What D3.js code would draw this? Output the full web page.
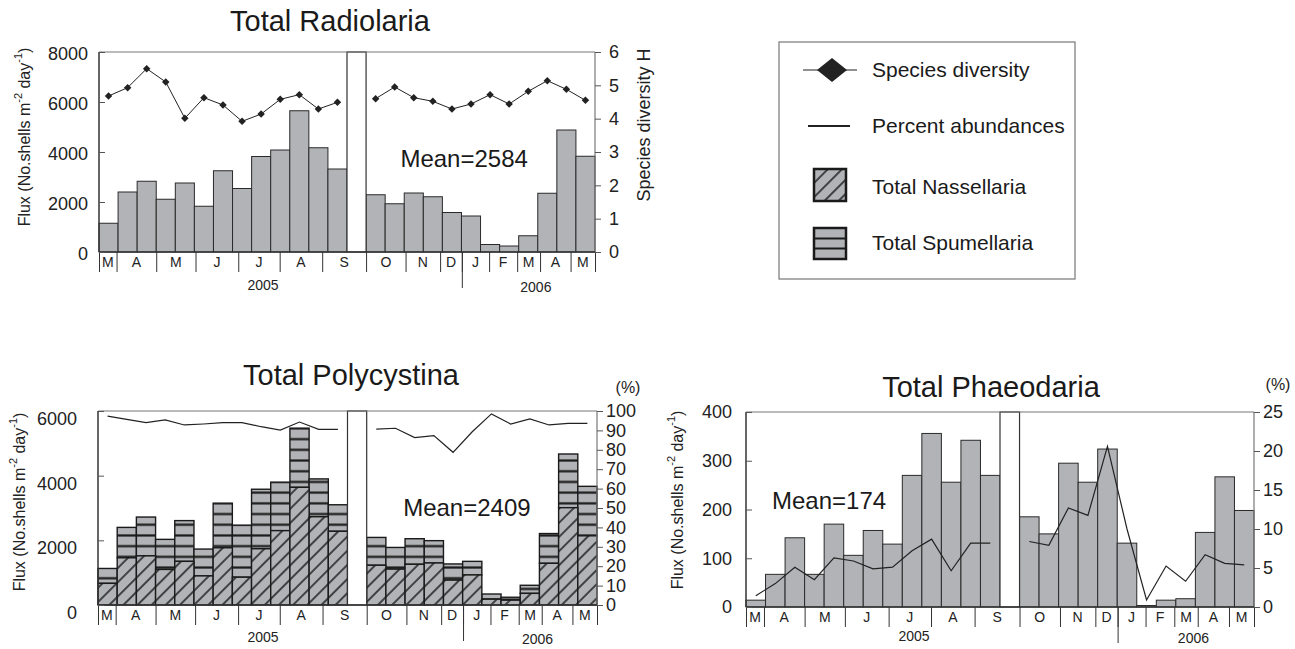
<!DOCTYPE html>
<html>
<head>
<meta charset="utf-8">
<script src="https://cdn.jsdelivr.net/npm/d3@7"></script>
<style>
  body { margin: 0; background: #fff; }
  svg { display: block; font-family: "Liberation Sans", Arial, Helvetica, sans-serif; }
</style>
</head>
<body>
<script>
// sampling intervals (the "gap" slot is the missing period)
const periods = ["s01","s02","s03","s04","s05","s06","s07","s08","s09","s10","s11","s12","s13",
  "gap","s14","s15","s16","s17","s18","s19","s20","s21","s22","s23","s24","s25"];

// month boundaries, in sampling-interval units
const monthBounds = [0, 0.92, 3.0, 5.06, 7.3, 9.47, 11.7, 14, 16.07, 17.88, 19.02, 20.45, 21.92, 23.12, 24.72, 26];
const monthLabels = ["M","A","M","J","J","A","S","O","N","D","J","F","M","A","M"];
const yearBreak = 19.02;
const years = [{ label: "2005", at: 8.6 }, { label: "2006", at: 22.9 }];

// Total Radiolaria
const radFlux = [1150, 2400, 2830, 2110, 2760, 1830, 3250, 2540, 3820, 4080, 5650, 4170, 3320,
  null, 2290, 1930, 2360, 2210, 1580, 1440, 300, 240, 650, 2350, 4880, 3830];
const radDiversity = [4.68, 4.93, 5.50, 5.10, 4.01, 4.63, 4.41, 3.92, 4.14, 4.58, 4.72, 4.29, 4.49,
  null, 4.60, 4.95, 4.63, 4.52, 4.29, 4.44, 4.72, 4.44, 4.82, 5.14, 4.88, 4.55];

// Total Polycystina (total flux and the Nassellaria part of it)
const polyTotal = [1130, 2400, 2720, 2030, 2610, 1730, 3150, 2470, 3580, 3800, 5470, 3900, 3100,
  null, 2090, 1780, 2050, 1990, 1270, 1350, 340, 240, 610, 2210, 4670, 3670];
const polyNass = [670, 1460, 1520, 1100, 1350, 900, 1770, 860, 1740, 2300, 3640, 2730, 2280,
  null, 1230, 1110, 1260, 1300, 770, 930, 180, 150, 360, 1290, 3010, 2140];
const polyPct = [97.4, 95.7, 94.0, 95.4, 92.8, 93.3, 94.0, 94.0, 91.9, 90.2, 94.3, 90.5, 90.5,
  null, 90.7, 91.1, 86.3, 87.3, 78.7, 89.3, 98.5, 93.3, 95.9, 92.8, 93.6, 93.6];

// Total Phaeodaria
const phaeoFlux = [14, 67, 142, 67, 170, 106, 157, 129, 270, 356, 256, 342, 270,
  null, 185, 150, 295, 256, 324, 131, 3, 14, 17, 153, 267, 198];
const phaeoPct = [1.45, 3.0, 5.1, 3.5, 6.3, 5.9, 4.9, 5.1, 7.2, 8.7, 4.65, 8.2, 8.2,
  null, 8.4, 7.9, 12.7, 11.75, 20.6, 10.0, 0.9, 5.25, 3.3, 6.7, 5.6, 5.4];

const GRAY = "#b2b3b7";
const INK = "#1a1a1a";

const svg = d3.select("body").append("svg")
  .attr("width", 1295)
  .attr("height", 649);

const defs = svg.append("defs");

// diagonal hatch for Nassellaria
const hatch = defs.append("pattern")
  .attr("id", "hatch")
  .attr("patternUnits", "userSpaceOnUse")
  .attr("width", 10).attr("height", 10)
  .attr("patternTransform", "rotate(45)");
hatch.append("rect").attr("width", 10).attr("height", 10).attr("fill", GRAY);
hatch.append("line").attr("x1", 5).attr("x2", 5).attr("y1", 0).attr("y2", 10)
  .attr("stroke", INK).attr("stroke-width", 1.5);

// horizontal bands for Spumellaria
const bands = defs.append("pattern")
  .attr("id", "bands")
  .attr("patternUnits", "userSpaceOnUse")
  .attr("width", 20).attr("height", 10.7);
bands.append("rect").attr("width", 20).attr("height", 10.7).attr("fill", GRAY);
bands.append("line").attr("x1", 0).attr("x2", 20).attr("y1", 5.35).attr("y2", 5.35)
  .attr("stroke", INK).attr("stroke-width", 2.2);

function rotatedFluxLabel(g, cx, cy) {
  const t = g.append("text")
    .attr("transform", `translate(${cx},${cy}) rotate(-90)`)
    .attr("text-anchor", "middle")
    .attr("dominant-baseline", "central")
    .attr("font-size", 16)
    .attr("fill", "#222");
  t.append("tspan").text("Flux (No.shells m");
  t.append("tspan").attr("font-size", 11).attr("dy", -6).text("-2");
  t.append("tspan").attr("dy", 6).text(" day");
  t.append("tspan").attr("font-size", 11).attr("dy", -6).text("-1");
  t.append("tspan").attr("dy", 6).text(")");
}

// one panel: scales for bars and lines
function panel(opt) {
  const g = svg.append("g");
  const x = d3.scaleBand().domain(periods).range([opt.x0, opt.x1]).paddingInner(0);
  const xs = d3.scaleLinear().domain([0, 26]).range([opt.x0, opt.x1]);
  const y = d3.scaleLinear().domain([0, opt.yMax]).range([opt.y1, opt.y0]);
  const yR = d3.scaleLinear().domain([0, opt.rMax]).range([opt.y1, opt.y0]);
  return { g, x, xs, y, yR, opt };
}

// gap box, frame, month axis, left and right axes, title, mean
function finishPanel(p, more) {
  const { g, x, xs, y, yR } = p;
  const opt = Object.assign({}, p.opt, more);

  g.append("rect")
    .attr("x", x("gap")).attr("y", opt.y0)
    .attr("width", x.bandwidth()).attr("height", opt.y1 - opt.y0)
    .attr("fill", "#fff").attr("stroke", "#333").attr("stroke-width", 1.2);

  g.append("line").attr("x1", opt.x0).attr("x2", opt.x1).attr("y1", opt.y0).attr("y2", opt.y0)
    .attr("stroke", "#777").attr("stroke-width", 1.2);
  g.append("line").attr("x1", opt.x1).attr("x2", opt.x1).attr("y1", opt.y0).attr("y2", opt.y1)
    .attr("stroke", "#777").attr("stroke-width", 1.2);
  g.append("line").attr("x1", opt.x0).attr("x2", opt.x0).attr("y1", opt.y0).attr("y2", opt.y1)
    .attr("stroke", "#333").attr("stroke-width", 1.5);
  g.append("line").attr("x1", opt.x0).attr("x2", opt.x1).attr("y1", opt.y1).attr("y2", opt.y1)
    .attr("stroke", "#333").attr("stroke-width", 1.5);

  const mAxis = g.append("g")
    .attr("transform", `translate(0,${opt.y1})`)
    .call(d3.axisBottom(xs).tickValues(monthBounds).tickSize(20).tickFormat(""));
  mAxis.select(".domain").remove();
  mAxis.selectAll("line").attr("stroke", "#333");

  const yrAxis = g.append("g")
    .attr("transform", `translate(0,${opt.y1})`)
    .call(d3.axisBottom(xs).tickValues([yearBreak]).tickSize(36).tickFormat(""));
  yrAxis.select(".domain").remove();
  yrAxis.selectAll("line").attr("stroke", "#333");

  g.selectAll(".month")
    .data(monthLabels)
    .join("text")
    .attr("x", (d, i) => xs((monthBounds[i] + monthBounds[i + 1]) / 2))
    .attr("y", opt.y1 + 15)
    .attr("text-anchor", "middle")
    .attr("font-size", 14)
    .attr("fill", "#222")
    .text(d => d);

  g.selectAll(".year")
    .data(years)
    .join("text")
    .attr("x", d => xs(d.at))
    .attr("y", (d, i) => opt.y1 + opt.yearDy + i * 2)
    .attr("text-anchor", "middle")
    .attr("font-size", 14)
    .attr("fill", "#222")
    .text(d => d.label);

  const la = g.append("g")
    .attr("transform", `translate(${opt.x0},0)`)
    .call(d3.axisLeft(y).tickValues(opt.yTicks).tickSize(-6).tickPadding(opt.lPad).tickFormat(d3.format("d")));
  la.select(".domain").remove();
  la.selectAll("line").attr("stroke", "#555");
  la.selectAll("text").attr("font-size", 18).attr("fill", "#222").attr("dy", opt.lDy);

  const ra = g.append("g")
    .attr("transform", `translate(${opt.x1},0)`)
    .call(d3.axisRight(yR).tickValues(opt.rTicks).tickSize(6).tickPadding(opt.rPad).tickFormat(d3.format("d")));
  ra.select(".domain").remove();
  ra.selectAll("line").attr("stroke", "#555");
  ra.selectAll("text").attr("font-size", 18).attr("fill", "#222");

  svg.append("text")
    .attr("x", opt.titleX).attr("y", opt.titleY)
    .attr("text-anchor", "middle")
    .attr("font-size", 29)
    .attr("fill", "#1a1a1a")
    .text(opt.title);

  g.append("text")
    .attr("x", xs(opt.meanAt[0])).attr("y", y(opt.meanAt[1]))
    .attr("font-size", 24)
    .attr("fill", "#1a1a1a")
    .text(opt.mean);
}

const linePath = (p, values, scale) => d3.line()
  .defined(d => d != null)
  .x((d, i) => p.x(periods[i]) + p.x.bandwidth() / 2)
  .y(d => scale(d))(values);

// ---------- Total Radiolaria ----------
const rad = panel({ x0: 99, x1: 595, y0: 52, y1: 252, yMax: 8000, rMax: 6 });
rad.g.selectAll(".bar")
  .data(radFlux.map((v, i) => ({ v, i })).filter(d => d.v != null))
  .join("rect")
  .attr("x", d => rad.x(periods[d.i]))
  .attr("y", d => rad.y(d.v))
  .attr("width", rad.x.bandwidth())
  .attr("height", d => rad.y(0) - rad.y(d.v))
  .attr("fill", GRAY)
  .attr("stroke", "#2a2a2a")
  .attr("stroke-width", 1);
rad.g.append("path")
  .attr("d", linePath(rad, radDiversity, rad.yR))
  .attr("fill", "none").attr("stroke", "#222").attr("stroke-width", 1);
rad.g.selectAll(".dia")
  .data(radDiversity.map((v, i) => ({ v, i })).filter(d => d.v != null))
  .join("path")
  .attr("d", d3.symbol(d3.symbolSquare, 28))
  .attr("transform", d => `translate(${rad.x(periods[d.i]) + rad.x.bandwidth() / 2},${rad.yR(d.v)}) rotate(45)`)
  .attr("fill", "#222");
finishPanel(rad, {
  yTicks: [0, 2000, 4000, 6000, 8000], rTicks: [0, 1, 2, 3, 4, 5, 6],
  lPad: 11, lDy: "0.4em", rPad: 8, yearDy: 38,
  title: "Total Radiolaria", titleX: 330, titleY: 31,
  mean: "Mean=2584", meanAt: [15.8, 3400]
});
svg.append("text")
  .attr("transform", "translate(644,125) rotate(-90)")
  .attr("text-anchor", "middle")
  .attr("dominant-baseline", "central")
  .attr("font-size", 18)
  .attr("fill", "#222")
  .text("Species diversity H");
rotatedFluxLabel(svg, 24, 137);

// ---------- Total Polycystina ----------
const poly = panel({ x0: 98, x1: 597, y0: 411, y1: 605, yMax: 6000, rMax: 100 });
bands.attr("y", 605 % 10.7);
const polyRows = polyTotal.map((t, i) => ({ i, t, n: polyNass[i] })).filter(d => d.t != null);
poly.g.selectAll(".spum")
  .data(polyRows)
  .join("rect")
  .attr("x", d => poly.x(periods[d.i]))
  .attr("y", d => poly.y(d.t))
  .attr("width", poly.x.bandwidth())
  .attr("height", d => poly.y(d.n) - poly.y(d.t))
  .attr("fill", "url(#bands)")
  .attr("stroke", INK).attr("stroke-width", 1.4);
poly.g.selectAll(".nass")
  .data(polyRows)
  .join("rect")
  .attr("x", d => poly.x(periods[d.i]))
  .attr("y", d => poly.y(d.n))
  .attr("width", poly.x.bandwidth())
  .attr("height", d => poly.y(0) - poly.y(d.n))
  .attr("fill", "url(#hatch)")
  .attr("stroke", INK).attr("stroke-width", 1.4);
poly.g.append("path")
  .attr("d", linePath(poly, polyPct, poly.yR))
  .attr("fill", "none").attr("stroke", "#222").attr("stroke-width", 1.2);
finishPanel(poly, {
  yTicks: [0, 2000, 4000, 6000], rTicks: d3.range(0, 101, 10),
  lPad: 21, lDy: "0.75em", rPad: 3, yearDy: 37,
  title: "Total Polycystina", titleX: 351, titleY: 385,
  mean: "Mean=2409", meanAt: [15.9, 2750]
});
svg.append("text").attr("x", 628).attr("y", 393).attr("text-anchor", "middle")
  .attr("font-size", 16).attr("fill", "#222").text("(%)");
rotatedFluxLabel(svg, 19, 502);

// ---------- Total Phaeodaria ----------
const phaeo = panel({ x0: 746, x1: 1254, y0: 412, y1: 607, yMax: 400, rMax: 25 });
phaeo.g.selectAll(".bar")
  .data(phaeoFlux.map((v, i) => ({ v, i })).filter(d => d.v != null))
  .join("rect")
  .attr("x", d => phaeo.x(periods[d.i]))
  .attr("y", d => phaeo.y(d.v))
  .attr("width", phaeo.x.bandwidth())
  .attr("height", d => phaeo.y(0) - phaeo.y(d.v))
  .attr("fill", GRAY)
  .attr("stroke", "#2a2a2a")
  .attr("stroke-width", 1);
phaeo.g.append("path")
  .attr("d", linePath(phaeo, phaeoPct, phaeo.yR))
  .attr("fill", "none").attr("stroke", "#222").attr("stroke-width", 1.2);
finishPanel(phaeo, {
  yTicks: [0, 100, 200, 300, 400], rTicks: [0, 5, 10, 15, 20, 25],
  lPad: 14, lDy: "0.32em", rPad: 3, yearDy: 34,
  title: "Total Phaeodaria", titleX: 991, titleY: 397,
  mean: "Mean=174", meanAt: [1.33, 202]
});
svg.append("text").attr("x", 1278).attr("y", 390).attr("text-anchor", "middle")
  .attr("font-size", 16).attr("fill", "#222").text("(%)");
rotatedFluxLabel(svg, 677, 500);

// ---------- legend ----------
const lg = svg.append("g");
lg.append("rect").attr("x", 779).attr("y", 42).attr("width", 296).attr("height", 237)
  .attr("fill", "none").attr("stroke", "#777").attr("stroke-width", 1.2);
lg.append("line").attr("x1", 803).attr("x2", 857).attr("y1", 70).attr("y2", 70)
  .attr("stroke", "#222").attr("stroke-width", 1.2);
lg.append("path").attr("d", "M817,70L832,58L847,70L832,82Z").attr("fill", "#222");
lg.append("line").attr("x1", 808).attr("x2", 850).attr("y1", 126).attr("y2", 126)
  .attr("stroke", "#222").attr("stroke-width", 2);
lg.append("rect").attr("x", 814).attr("y", 169).attr("width", 32).attr("height", 32)
  .attr("fill", "url(#hatch)").attr("stroke", INK).attr("stroke-width", 2.5);
lg.append("rect").attr("x", 814).attr("y", 228).attr("width", 32).attr("height", 31)
  .attr("fill", GRAY).attr("stroke", INK).attr("stroke-width", 2.5);
[238.5, 248.5].forEach(yy => lg.append("line").attr("x1", 814).attr("x2", 846)
  .attr("y1", yy).attr("y2", yy).attr("stroke", INK).attr("stroke-width", 2));
const legendItems = [
  { label: "Species diversity", y: 77 },
  { label: "Percent abundances", y: 133 },
  { label: "Total Nassellaria", y: 194 },
  { label: "Total Spumellaria", y: 250 }
];
lg.selectAll(".lt")
  .data(legendItems)
  .join("text")
  .attr("x", 872).attr("y", d => d.y)
  .attr("font-size", 21)
  .attr("fill", "#1a1a1a")
  .text(d => d.label);
</script>
</body>
</html>
